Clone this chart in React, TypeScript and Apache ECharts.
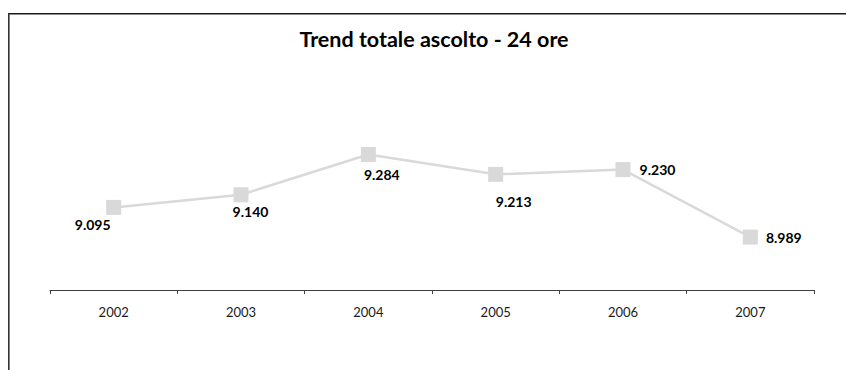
import React, { useEffect, useRef } from "react";
import * as echarts from "echarts";

const titleText = "Trend totale ascolto - 24 ore";
const years = ["2002", "2003", "2004", "2005", "2006", "2007"];
const listeners = [9095, 9140, 9284, 9213, 9230, 8989];
const labelOffsets: [number, number][] = [
  [-21, 17],
  [9.5, 17],
  [13.5, 20.5],
  [18, 27],
  [34.5, 0],
  [33.5, 0],
];

const fmt = (v: number) => {
  const s = String(Math.round(v));
  return s.replace(/\B(?=(\d{3})+(?!\d))/g, ".");
};

export default function App() {
  const ref = useRef<HTMLDivElement>(null);
  useEffect(() => {
    if (!ref.current) return;
    const chart = echarts.init(ref.current, undefined, { renderer: "svg" });
    chart.setOption({
      animation: false,
      backgroundColor: "#ffffff",
      textStyle: { fontFamily: "Lato" },
      graphic: [
        { type: "rect", shape: { x: 8, y: 13, width: 838, height: 1.6 }, style: { fill: "#1a1a1a" }, silent: true },
        { type: "rect", shape: { x: 8, y: 13, width: 1.6, height: 357 }, style: { fill: "#333333" }, silent: true },
        {
          type: "text",
          x: 434,
          y: 39,
          style: {
            text: titleText,
            font: "bold 21.5px Lato",
            fill: "#000000",
            textAlign: "center",
            textVerticalAlign: "middle",
          },
        },
      ],
      grid: { left: 50, right: 32, top: 122, bottom: 80, containLabel: false },
      xAxis: {
        type: "category",
        data: years,
        boundaryGap: true,
        axisLine: { show: true, lineStyle: { color: "#404040", width: 1 } },
        axisTick: { show: true, length: 4, lineStyle: { color: "#404040" } },
        axisLabel: { color: "#1a1a1a", fontSize: 13, fontFamily: "Lato", margin: 15 },
        splitLine: { show: false },
      },
      yAxis: {
        type: "value",
        min: 8800,
        max: 9400,
        show: false,
        splitLine: { show: false },
      },
      series: [
        {
          type: "line",
          data: listeners.map((v, i) => ({
            value: v,
            label: { offset: labelOffsets[i] },
          })),
          symbol: "rect",
          symbolSize: 15,
          itemStyle: { color: "#d9d9d9" },
          lineStyle: { color: "#d9d9d9", width: 2.5 },
          label: {
            show: true,
            position: "inside",
            align: "center",
            verticalAlign: "middle",
            fontFamily: "Lato",
            fontWeight: "bold",
            fontSize: 14,
            color: "#000000",
            formatter: (p: any) => fmt(p.value),
          },
        },
      ],
    });
    return () => chart.dispose();
  }, []);
  return (
    <div
      ref={ref}
      style={{ position: "absolute", left: 0, top: 0, width: 846, height: 370 }}
    />
  );
}
